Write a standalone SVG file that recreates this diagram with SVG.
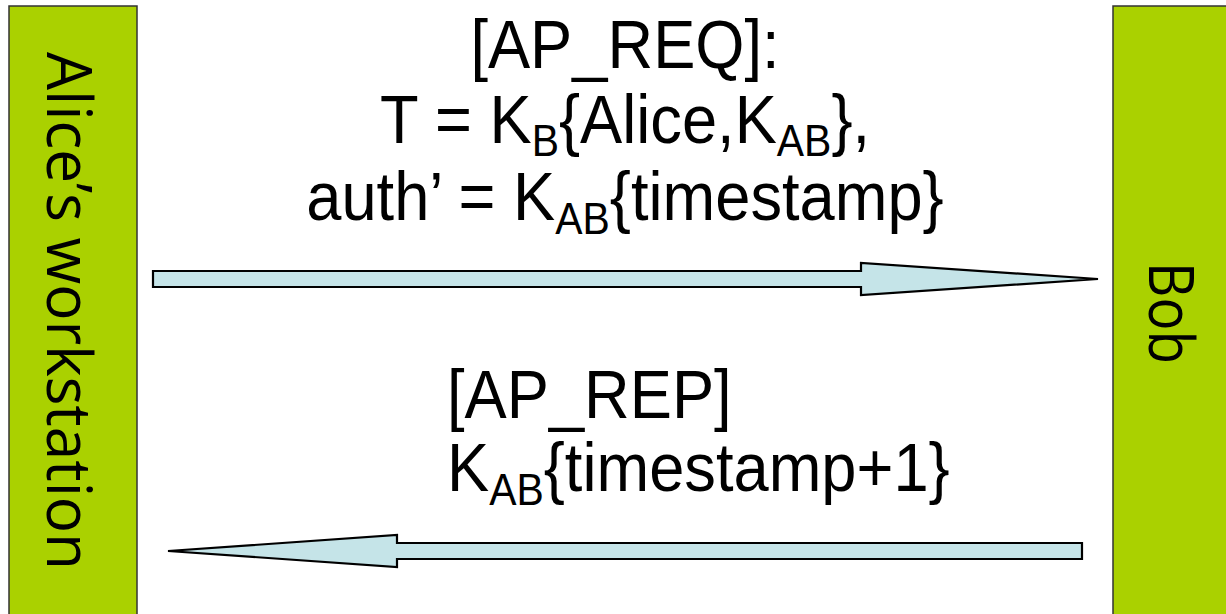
<svg xmlns="http://www.w3.org/2000/svg" width="1226" height="614" viewBox="0 0 1226 614">
<style>
.bar{fill:#AAD100;stroke:#333;stroke-width:1.5}
.lbl{font-family:"Open Sans","DejaVu Sans",sans-serif;fill:#000}
.msg{font-family:"Liberation Sans",Arial,sans-serif;font-size:68px;fill:#000}
.sub{font-size:44px}
.arrow{fill:#C5E4E8;stroke:#000;stroke-width:2.2;stroke-linejoin:miter}
</style>
<rect width="1226" height="614" fill="#fff"/>
<g id="alice">
<rect class="bar" x="9" y="6" width="128" height="620"/>
<text class="lbl" font-size="63" transform="translate(47,52) rotate(90)" textLength="518" lengthAdjust="spacingAndGlyphs">Alice’s workstation</text>
</g>
<g id="bob">
<rect class="bar" x="1113" y="6" width="130" height="620"/>
<text class="lbl" font-size="63" transform="translate(1149,262) rotate(90)" textLength="102" lengthAdjust="spacingAndGlyphs">Bob</text>
</g>
<g id="connectors">
<polygon class="arrow" points="153,271 861,271 861,263 1098,279 861,295 861,287 153,287"/>
<polygon class="arrow" points="1082,543 397,543 397,535 168,551 397,567 397,559 1082,559"/>
</g>
<g id="req-label">
<text class="msg" transform="translate(625,68) scale(0.93,1)" text-anchor="middle">[AP_REQ]:</text>
<text class="msg" transform="translate(625,143) scale(0.93,1)" text-anchor="middle">T = K<tspan class="sub" dy="13">B</tspan><tspan dy="-13">{Alice,K</tspan><tspan class="sub" dy="13">AB</tspan><tspan dy="-13">},</tspan></text>
<text class="msg" transform="translate(625,220) scale(0.93,1)" text-anchor="middle">auth’ = K<tspan class="sub" dy="14">AB</tspan><tspan dy="-14">{timestamp}</tspan></text>
</g>
<g id="rep-label">
<text class="msg" transform="translate(447,418) scale(0.93,1)">[AP_REP]</text>
<text class="msg" transform="translate(447,491) scale(0.93,1)">K<tspan class="sub" dy="14">AB</tspan><tspan dy="-14">{timestamp+1}</tspan></text>
</g>
</svg>
